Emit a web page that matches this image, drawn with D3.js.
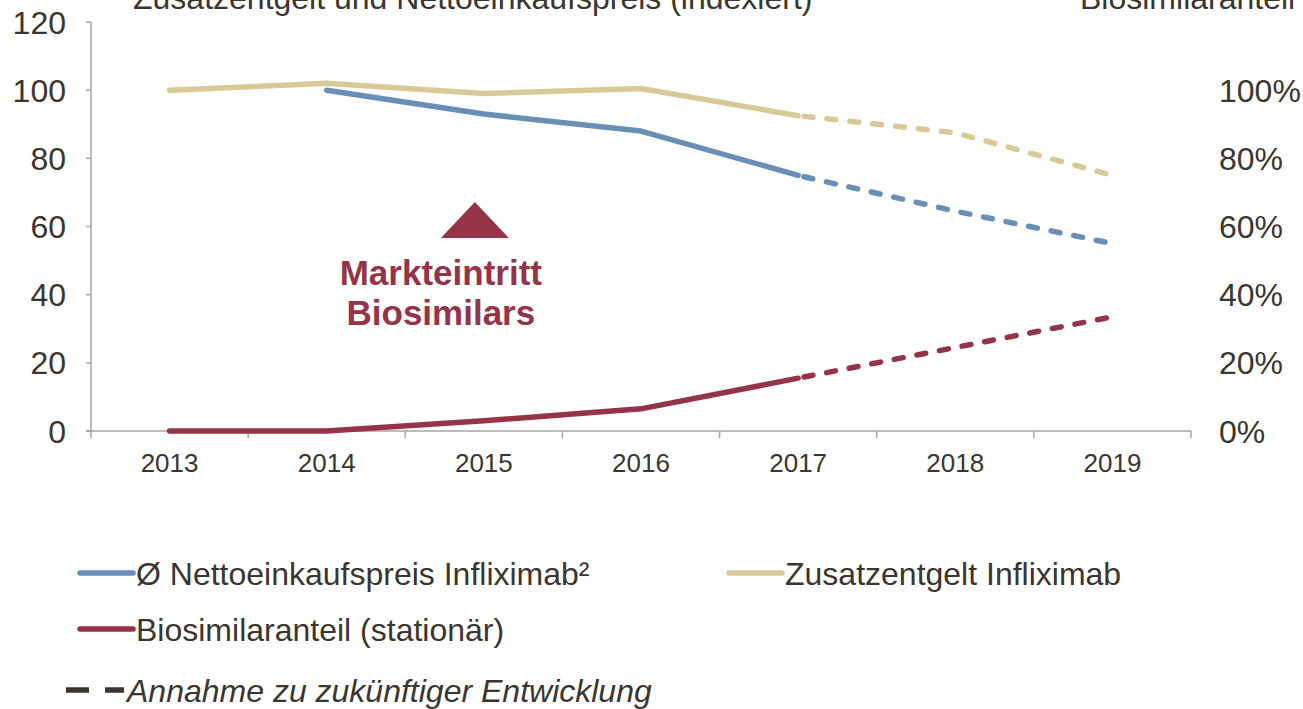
<!DOCTYPE html>
<html lang="de">
<head>
<meta charset="UTF-8">
<title>Infliximab Preisentwicklung</title>
<script src="https://d3js.org/d3.v7.min.js"></script>
<style>
  body { margin: 0; background: #fff; }
  svg text { font-family: "Liberation Sans", Arial, sans-serif; fill: #3b3530; }
</style>
</head>
<body>
<svg id="chart" width="1303" height="709"></svg>
<script>
// Daten
const years = ["2013", "2014", "2015", "2016", "2017", "2018", "2019"];
const zusatzentgelt = [100, 102, 99, 100.5, 92.5, 87.5, 75];
const nettopreis = [null, 100, 93, 88, 75, 64.5, 55];
const biosimilar = [0, 0, 0.03, 0.065, 0.155, 0.245, 0.335];
const leftTicks = [0, 20, 40, 60, 80, 100, 120];
const rightTicks = [0, 0.2, 0.4, 0.6, 0.8, 1.0];
const lastActual = "2017";

const svg = d3.select("#chart");

const x = d3.scaleBand().domain(years).range([91, 1191]).padding(0);
const yL = d3.scaleLinear().domain([0, 120]).range([431, 22]);
const yR = d3.scaleLinear().domain([0, 1.2]).range([431, 22]);
const cx = d => x(d) + x.bandwidth() / 2;

// Achsen
const axisColor = "#a6a6a6";
svg.append("line").attr("x1", 91).attr("x2", 91).attr("y1", yL(120)).attr("y2", yL(0))
  .attr("stroke", axisColor).attr("stroke-width", 1.5);
svg.append("line").attr("x1", 86).attr("x2", 1191).attr("y1", yL(0)).attr("y2", yL(0))
  .attr("stroke", axisColor).attr("stroke-width", 1.5);

svg.append("g").selectAll("line").data(leftTicks).enter().append("line")
  .attr("x1", 86).attr("x2", 91).attr("y1", d => yL(d)).attr("y2", d => yL(d))
  .attr("stroke", axisColor).attr("stroke-width", 1.5);

const bounds = years.map(d => x(d)).concat([x(years[years.length - 1]) + x.bandwidth()]);
svg.append("g").selectAll("line").data(bounds).enter().append("line")
  .attr("x1", d => d).attr("x2", d => d).attr("y1", yL(0)).attr("y2", yL(0) + 7)
  .attr("stroke", axisColor).attr("stroke-width", 1.5);

svg.append("g").selectAll("text").data(leftTicks).enter().append("text")
  .attr("x", 66).attr("y", d => yL(d)).attr("dy", "0.36em")
  .attr("text-anchor", "end").style("font-size", "32px")
  .text(d => d);

svg.append("g").selectAll("text").data(rightTicks).enter().append("text")
  .attr("x", 1219).attr("y", d => yR(d)).attr("dy", "0.36em")
  .attr("text-anchor", "start").style("font-size", "32px")
  .text(d3.format(".0%"));

svg.append("g").selectAll("text").data(years).enter().append("text")
  .attr("x", d => cx(d)).attr("y", 472)
  .attr("text-anchor", "middle").style("font-size", "26px")
  .text(d => d);

// Achsentitel (oben angeschnitten)
svg.append("text").attr("x", 133).attr("y", 9).style("font-size", "32px")
  .text("Zusatzentgelt und Nettoeinkaufspreis (indexiert)");
svg.append("text").attr("x", 1080).attr("y", 9).style("font-size", "32px")
  .text("Biosimilaranteil");

// Linien
const series = [
  { values: zusatzentgelt, scale: yL, color: "#d8ca97" },
  { values: nettopreis, scale: yL, color: "#6a8fb6" },
  { values: biosimilar, scale: yR, color: "#953448" }
];
const split = years.indexOf(lastActual);

series.forEach(s => {
  const pts = years.map((yr, i) => ({ yr, v: s.values[i], i })).filter(p => p.v !== null);
  const line = d3.line().x(p => cx(p.yr)).y(p => s.scale(p.v));
  svg.append("path").datum(pts.filter(p => p.i <= split))
    .attr("d", line).attr("fill", "none").attr("stroke", s.color)
    .attr("stroke-width", 5.5).attr("stroke-linejoin", "round").attr("stroke-linecap", "round");
  svg.append("path").datum(pts.filter(p => p.i >= split))
    .attr("d", line).attr("fill", "none").attr("stroke", s.color)
    .attr("stroke-width", 5.5).attr("stroke-linecap", "round")
    .attr("stroke-dasharray", "9 14").attr("stroke-dashoffset", -6);
});

// Markteintritt-Marker
const tx = cx("2015") - 9;
const lx = cx("2015") - 43;
svg.append("path")
  .attr("d", d3.line()([[tx - 34, 238], [tx, 202], [tx + 34, 238]]) + "Z")
  .attr("fill", "#953448");
svg.append("text").attr("x", lx).attr("y", 285).attr("text-anchor", "middle")
  .style("font-size", "35px").style("font-weight", "bold").style("fill", "#953448")
  .text("Markteintritt");
svg.append("text").attr("x", lx).attr("y", 325).attr("text-anchor", "middle")
  .style("font-size", "35px").style("font-weight", "bold").style("fill", "#953448")
  .text("Biosimilars");

// Legende
const legend = [
  { label: "Ø Nettoeinkaufspreis Infliximab²", color: "#6a8fb6", lx: 80, ly: 573 },
  { label: "Zusatzentgelt Infliximab", color: "#d8ca97", lx: 729, ly: 573 },
  { label: "Biosimilaranteil (stationär)", color: "#953448", lx: 80, ly: 629 }
];
const lg = svg.append("g").selectAll("g").data(legend).enter().append("g");
lg.append("line").attr("x1", d => d.lx).attr("x2", d => d.lx + 53)
  .attr("y1", d => d.ly).attr("y2", d => d.ly)
  .attr("stroke", d => d.color).attr("stroke-width", 5.5).attr("stroke-linecap", "round");
lg.append("text").attr("x", d => d.lx + 56).attr("y", d => d.ly).attr("dy", "0.36em")
  .style("font-size", "32px").text(d => d.label);

svg.append("line").attr("x1", 66).attr("x2", 124).attr("y1", 690).attr("y2", 690)
  .attr("stroke", "#3b3530").attr("stroke-width", 5.5).attr("stroke-dasharray", "23 16");
svg.append("text").attr("x", 127).attr("y", 690).attr("dy", "0.36em")
  .style("font-size", "32px").style("font-style", "italic")
  .text("Annahme zu zukünftiger Entwicklung");
</script>
</body>
</html>
